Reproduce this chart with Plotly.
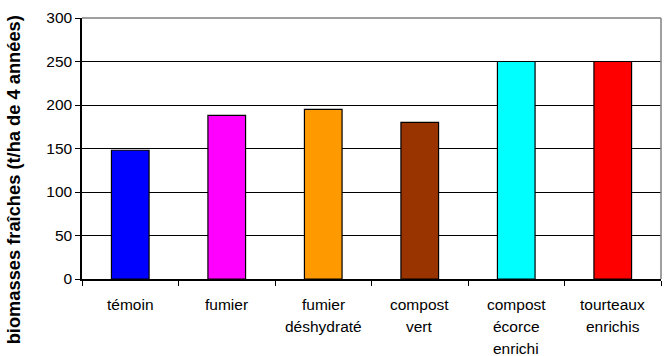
import plotly.graph_objects as go

# Treatments (one entry per line of the axis label)
categories = [
    ["témoin"],
    ["fumier"],
    ["fumier", "déshydraté"],
    ["compost", "vert"],
    ["compost", "écorce", "enrichi"],
    ["tourteaux", "enrichis"],
]
biomass = [148, 188, 195, 180, 250, 250]
bar_colors = ["#0000FF", "#FF00FF", "#FF9900", "#993300", "#00FFFF", "#FF0000"]
y_ticks = [0, 50, 100, 150, 200, 250, 300]
y_title = "biomasses fraîches (t/ha de 4 années)"

FONT = "Liberation Sans, Arial, sans-serif"
names = [" ".join(c) for c in categories]

fig = go.Figure(
    go.Bar(
        x=names,
        y=biomass,
        width=0.39,
        marker=dict(color=bar_colors, line=dict(color="black", width=1.2)),
        hoverinfo="x+y",
    )
)

# Multi-line category labels, one annotation per line
annotations = []
for name, lines in zip(names, categories):
    for i, line in enumerate(lines):
        annotations.append(
            dict(
                x=name, xref="x", y=0, yref="paper",
                yanchor="middle", yshift=-25 - 22 * i,
                text=line, showarrow=False,
                font=dict(family=FONT, size=15.5, color="black"),
            )
        )

annotations.append(
    dict(
        x=0, xref="paper", xshift=-69, y=0.378, yref="paper",
        xanchor="center", yanchor="middle",
        text="<b>" + y_title + "</b>", textangle=-90, showarrow=False,
        font=dict(family=FONT, size=18.3, color="black"),
    )
)

# Grey frame on the top and right sides of the plot area
frame = dict(color="#808080", width=1.5)
shapes = [
    dict(type="line", xref="paper", yref="paper", x0=0, x1=1, y0=1, y1=1,
         line=frame, layer="above"),
    dict(type="line", xref="paper", yref="paper", x0=1, x1=1, y0=0, y1=1,
         line=frame, layer="above"),
]

fig.update_layout(
    width=670, height=356,
    margin=dict(l=82, r=9, t=13, b=77),
    paper_bgcolor="white", plot_bgcolor="white",
    showlegend=False,
    font=dict(family=FONT, size=15.5, color="black"),
    annotations=annotations,
    shapes=shapes,
    xaxis=dict(
        type="category", categoryorder="array", categoryarray=names,
        showticklabels=False, showline=True, linecolor="black", linewidth=1.5,
        ticks="outside", tickson="boundaries", ticklen=5, tickcolor="black",
        tickwidth=1.2, showgrid=False, zeroline=False,
    ),
    yaxis=dict(
        range=[0, 300], tickvals=y_ticks, ticks="outside", ticklen=5,
        tickcolor="black", tickwidth=1.2, showline=True, linecolor="black",
        linewidth=1.5, showgrid=True, gridcolor="black", gridwidth=1,
        zeroline=False, tickfont=dict(family=FONT, size=15.5, color="black"),
    ),
)

fig.write_html("out.html")
